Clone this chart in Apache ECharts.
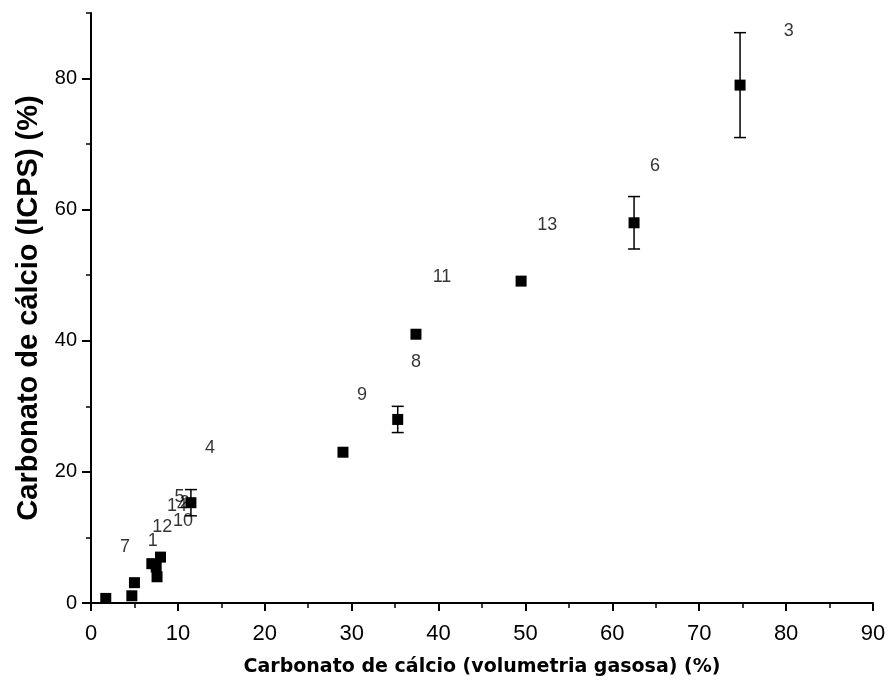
<!DOCTYPE html>
<html>
<head>
<meta charset="utf-8">
<script src="https://cdn.jsdelivr.net/npm/echarts@6/dist/echarts.min.js"></script>
<style>
  html, body { margin: 0; padding: 0; background: #fff; }
  #chart { width: 890px; height: 693px; }
</style>
</head>
<body>
<div id="chart"></div>
<script>
// Calcium carbonate: gas volumetry (x) vs ICPS (y), with standard deviation
const volumetria = [74.7, 62.5, 49.5, 37.4, 35.3, 29.0, 11.5, 8.0, 7.0, 7.5, 7.6, 5.0, 4.7, 1.7];
const icps       = [79.0, 58.0, 49.1, 41.0, 28.0, 23.0, 15.3, 7.0, 6.0, 5.5, 4.0, 3.1, 1.1, 0.7];
const desvio     = [8.0, 4.0, 0.0, 0.0, 2.0, 0.0, 2.0, 0.0, 0.0, 0.0, 0.0, 0.0, 0.0, 0.0];

// Sample numbers and where their tags sit (data units)
const amostras = ['3', '6', '13', '11', '8', '9', '4', '7', '1', '12', '10', '5', '14', '2'];
const tagX     = [80.3, 64.9, 52.5, 40.4, 37.4, 31.2, 13.7, 3.9, 7.1, 8.2, 10.6, 10.2, 9.9, 10.8];
const tagY     = [87.3, 66.7, 57.6, 49.7, 36.7, 31.7, 23.7, 8.6, 9.5, 11.6, 12.5, 16.1, 14.8, 15.2];

const xTicks = [0, 10, 20, 30, 40, 50, 60, 70, 80, 90];
const yMajor = [0, 20, 40, 60, 80];
const yMinor = [10, 30, 50, 70, 90];

const chart = echarts.init(document.getElementById('chart'), null, { renderer: 'canvas' });

const pontos = volumetria.map((x, i) => [x, icps[i]]);
const barras = volumetria.map((x, i) => [x, icps[i], desvio[i]]);
const tags = amostras.map((t, i) => ({ name: t, value: [tagX[i], tagY[i]] }));

const axisFont = 'Liberation Sans, Arial, sans-serif';

chart.setOption({
  animation: false,
  backgroundColor: '#ffffff',
  grid: { left: 91, right: 17, top: 13, bottom: 90, containLabel: false },
  xAxis: [{
    type: 'value',
    min: 0, max: 90, interval: 10,
    splitLine: { show: false },
    axisLine: { onZero: false, lineStyle: { color: '#000', width: 2 } },
    axisTick: { inside: false, length: 8, lineStyle: { color: '#000', width: 2 } },
    minorTick: { show: true, splitNumber: 2, length: 5, lineStyle: { color: '#000', width: 1.5 } },
    axisLabel: {
      color: '#000', fontSize: 22, margin: 20,
      fontFamily: "'Liberation Sans Narrow', 'Arial Narrow', " + axisFont,
      formatter: v => xTicks.includes(v) ? String(v) : ''
    },
    name: 'Carbonato de cálcio (volumetria gasosa) (%)',
    nameLocation: 'middle',
    nameGap: 55,
    nameTextStyle: { color: '#000', fontSize: 19, fontWeight: 'bold', fontFamily: 'DejaVu Sans, Verdana, sans-serif' }
  }],
  yAxis: [{
    type: 'value',
    min: 0, max: 90, interval: 10,
    splitLine: { show: false },
    axisLine: { onZero: false, lineStyle: { color: '#000', width: 2 } },
    axisTick: { length: 9, customValues: yMajor, lineStyle: { color: '#000', width: 2 } },
    axisLabel: {
      color: '#000', fontSize: 20, margin: 14, fontFamily: axisFont,
      customValues: yMajor
    },
    name: 'Carbonato de cálcio (ICPS) (%)',
    nameLocation: 'middle',
    nameGap: 47,
    nameTextStyle: { color: '#000', fontSize: 29, fontWeight: 'bold', fontFamily: axisFont }
  }, {
    type: 'value',
    position: 'left',
    min: 0, max: 90, interval: 10,
    splitLine: { show: false },
    axisLine: { show: false },
    axisTick: { length: 5, customValues: yMinor, lineStyle: { color: '#000', width: 1.5 } },
    axisLabel: { show: false }
  }],
  series: [
    {
      // vertical error bars with caps
      type: 'custom',
      name: 'desvio',
      z: 2,
      data: barras,
      renderItem: function (params, api) {
        const x = api.value(0), y = api.value(1), e = api.value(2);
        if (!e) return null;
        const top = api.coord([x, y + e]);
        const bot = api.coord([x, y - e]);
        const half = 6;
        const style = { stroke: '#000', lineWidth: 1.5 };
        return {
          type: 'group',
          children: [
            { type: 'line', shape: { x1: top[0], y1: top[1], x2: bot[0], y2: bot[1] }, style },
            { type: 'line', shape: { x1: top[0] - half, y1: top[1], x2: top[0] + half, y2: top[1] }, style },
            { type: 'line', shape: { x1: bot[0] - half, y1: bot[1], x2: bot[0] + half, y2: bot[1] }, style }
          ]
        };
      }
    },
    {
      type: 'scatter',
      name: 'amostras',
      z: 3,
      symbol: 'rect',
      symbolSize: 11,
      itemStyle: { color: '#000', opacity: 1 },
      data: pontos
    },
    {
      type: 'scatter',
      name: 'rótulos',
      z: 4,
      symbolSize: 0,
      silent: true,
      data: tags,
      label: {
        show: true,
        position: 'inside',
        formatter: p => p.name,
        color: '#000',
        fontSize: 18,
        fontFamily: axisFont
      }
    }
  ]
});
</script>
</body>
</html>
